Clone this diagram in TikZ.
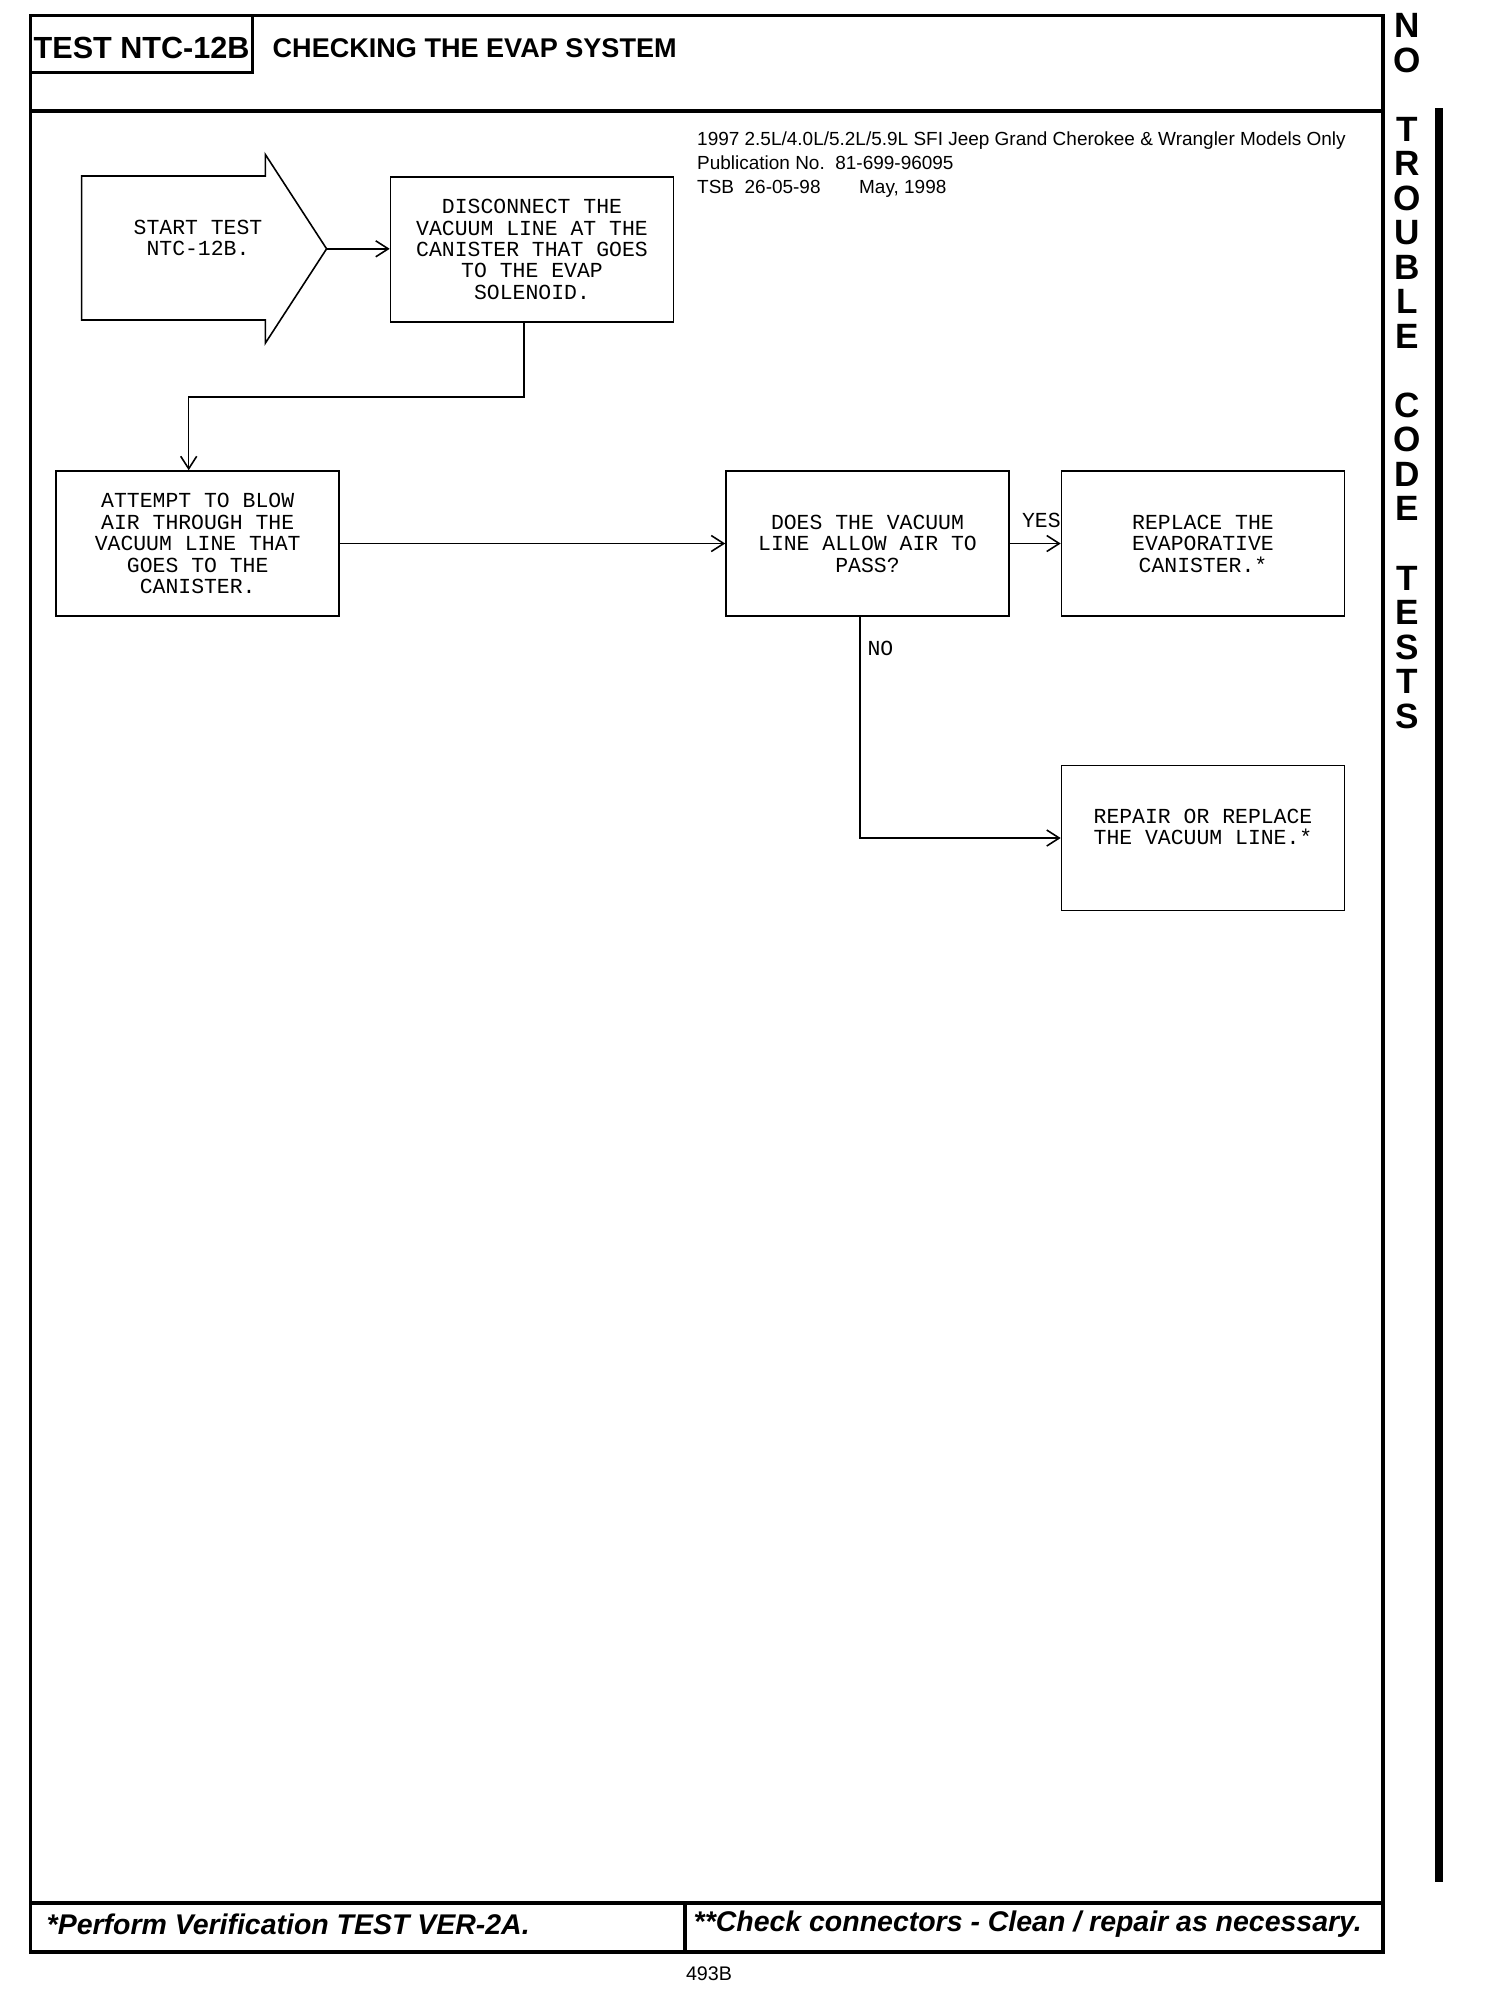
\documentclass[tikz,border=0pt]{standalone}
\usepackage{fontspec}
\setmainfont{Liberation Sans}
\newfontfamily\boxfont{Liberation Mono}
\usetikzlibrary{positioning, arrows.meta, calc}

\begin{document}
\begin{tikzpicture}[
    x=0.1mm, y=-0.1mm,
    frame/.style={draw=black, line width=0.9pt},
    stepbox/.style={
        draw=black, line width=0.45pt,
        minimum width=28.3mm, minimum height=14.5mm,
        align=center, inner sep=0pt,
        font=\boxfont\fontsize{6.1}{6.1}\selectfont
    },
    arrow/.style={-{Straight Barb[length=1.25mm, width=1.6mm]}, line width=0.45pt, draw=black},
    labelstyle/.style={font=\boxfont\fontsize{6.1}{6.1}\selectfont, inner sep=2pt},
    footstyle/.style={font=\fontsize{8.1}{9}\selectfont\bfseries\itshape, anchor=west, inner sep=0pt},
    tabletters/.style={font=\fontsize{10}{9.82}\selectfont\bfseries, align=center, inner sep=0pt},
]
\useasboundingbox (0,0) rectangle (1504,2000);

% Page frame
\draw[frame] (30.6,15.3) rectangle (1383,1952);
\draw[frame] (30.6,111) -- (1383,111);

% Title
\node[draw=black, line width=0.9pt, minimum width=22.2mm, minimum height=5.74mm, inner sep=0pt,
      text height=8.5pt, text depth=0pt,
      font=\fontsize{8.7}{10}\selectfont\bfseries] (titlebox) at (141.6,44) {TEST NTC-12B};
\node[font=\fontsize{7.7}{9}\selectfont\bfseries, anchor=west, inner sep=0pt] (title) at (272,48.5) {CHECKING THE EVAP SYSTEM};

% Vehicle / publication info
\node[font=\fontsize{5.4}{6.83}\selectfont, align=left, anchor=north west, inner sep=0pt] (info) at (696.5,130.7) {
    1997 2.5L/4.0L/5.2L/5.9L SFI Jeep Grand Cherokee \& Wrangler Models Only\\
    Publication No.~~81-699-96095\\
    \makebox[16.2mm][l]{TSB~~26-05-98}May, 1998
};

% Start arrow
\coordinate (starttip) at (326.6,248.8);
\draw[line width=0.45pt] (81.6,176) -- (265.3,176) -- (265.3,154.4) -- (starttip)
    -- (265.3,343.2) -- (265.3,320) -- (81.6,320) -- cycle;
\node[labelstyle, align=center] (start) at (198,238) {START TEST\\NTC-12B.};

% Steps
\node[stepbox] (disc) at (532,249.4) {DISCONNECT THE\\VACUUM LINE AT THE\\CANISTER THAT GOES\\TO THE EVAP\\SOLENOID.};
\node[stepbox] (attempt) at (197.7,543.5) {ATTEMPT TO BLOW\\AIR THROUGH THE\\VACUUM LINE THAT\\GOES TO THE\\CANISTER.};
\node[stepbox] (does) at (867.5,543.5) {DOES THE VACUUM\\LINE ALLOW AIR TO\\PASS?};
\node[stepbox] (replace) at (1203,543.5) {REPLACE THE\\EVAPORATIVE\\CANISTER.*};
\node[stepbox, text depth=6.4pt] (repair) at (1203,838) {REPAIR OR REPLACE\\THE VACUUM LINE.*};

% Arrows
\draw[arrow] (starttip) -- (starttip -| disc.west);
\draw[arrow] ([xshift=-0.8mm]disc.south) -- ++(0,74) -| ([xshift=-0.9mm]attempt.north);
\draw[arrow] (attempt.east) -- (does.west);
\draw[arrow] (does.east) -- node[labelstyle, above=2.3pt, pos=0.62] {YES} (replace.west);
\draw[arrow] ([xshift=-0.77mm]does.south) |- node[labelstyle, right, pos=0.072] {NO} (repair.west);

% Side tab
\node[tabletters, anchor=north] (sidetab) at (1407,12.9) {N\\O\\~\\T\\R\\O\\U\\B\\L\\E\\~\\C\\O\\D\\E\\~\\T\\E\\S\\T\\S};
\fill[black] (1435,108) rectangle (1443,1882);

% Footer
\draw[frame] (30.6,1903) -- (1383,1903);
\draw[frame] (685,1903) -- (685,1952);
\node[footstyle] (footleft) at (46,1924) {*Perform Verification TEST VER-2A.};
\node[footstyle] (footright) at (693,1924) {**Check connectors - Clean / repair as necessary.};
\node[font=\fontsize{5.6}{7}\selectfont, inner sep=0pt] (pagenum) at (709,1973.5) {493B};

\end{tikzpicture}
\end{document}
